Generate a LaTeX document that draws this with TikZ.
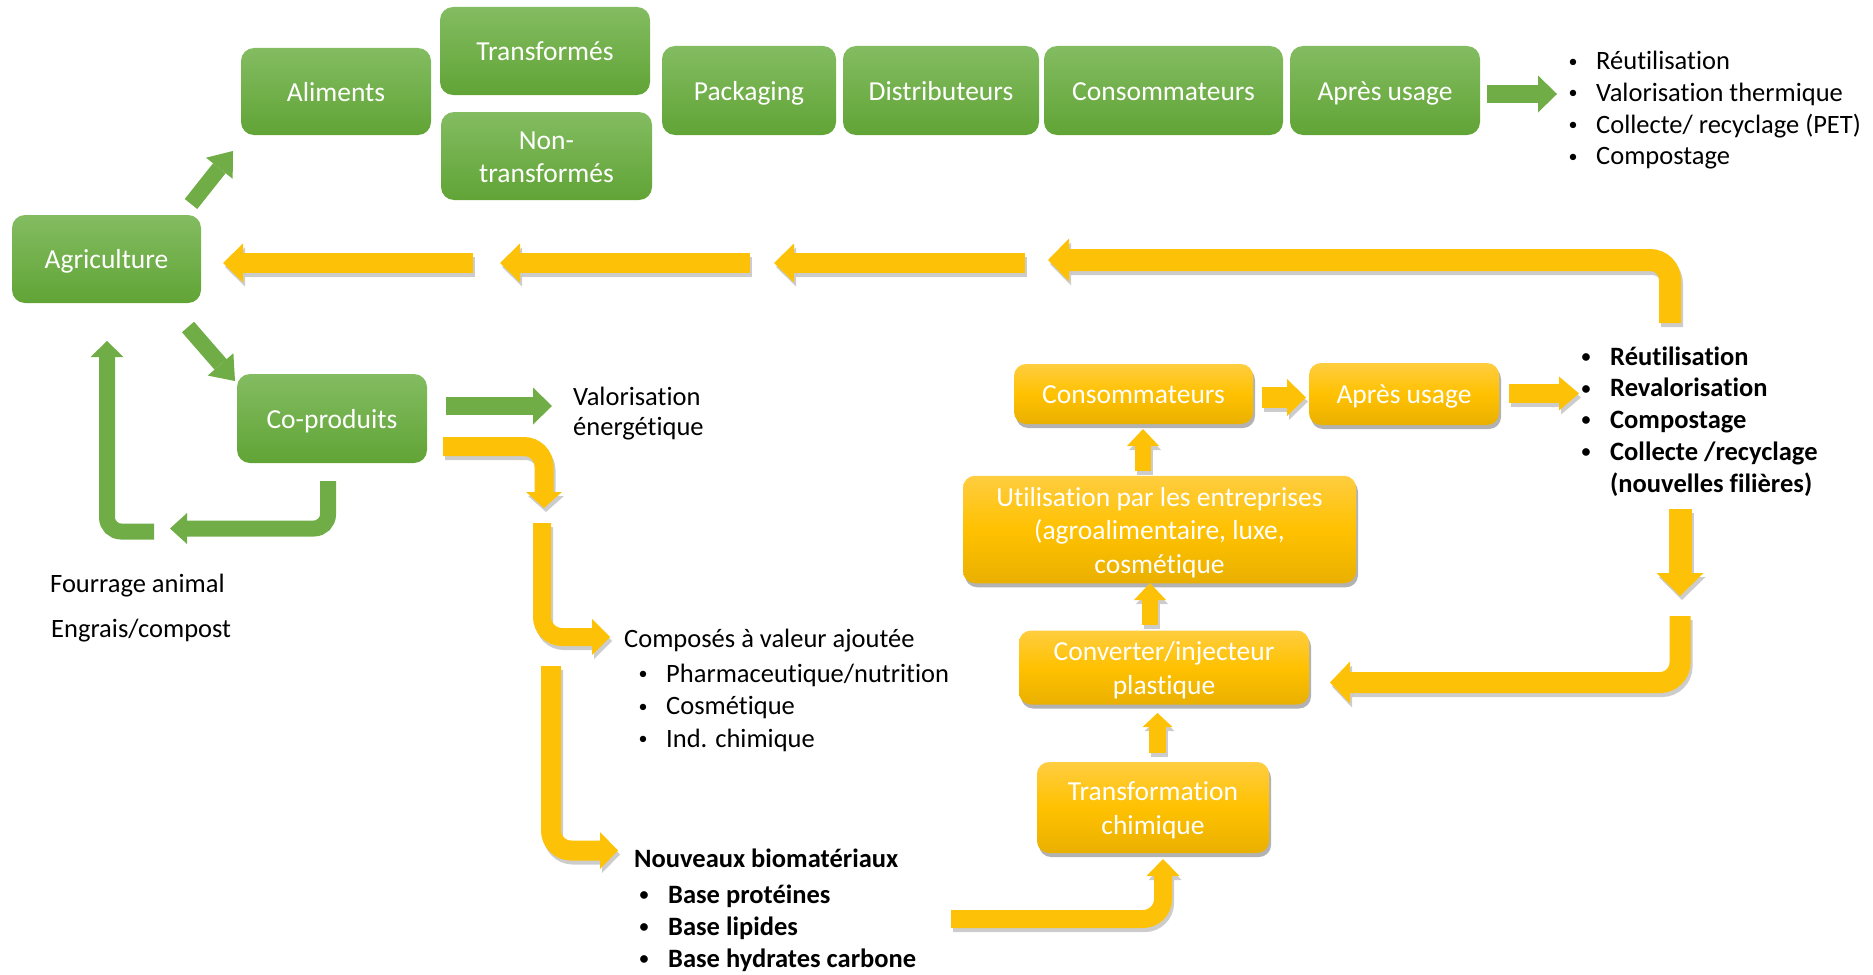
\documentclass[tikz,border=0pt]{standalone}
\usepackage{fontspec}
\setmainfont{Carlito}[Ligatures=NoCommon]
\usetikzlibrary{arrows.meta,shadows}
\definecolor{gtop}{RGB}{131,188,97}
\definecolor{gbot}{RGB}{97,164,54}
\definecolor{garrowc}{RGB}{112,173,71}
\definecolor{ytop}{RGB}{255,205,64}
\definecolor{ymid}{RGB}{255,193,0}
\definecolor{ybot}{RGB}{234,176,0}
\definecolor{yarrowc}{RGB}{253,193,8}
\tikzset{
  gbox/.style={draw=none, rounded corners=13pt, top color=gtop, bottom color=gbot, text=white,
    font=\fontsize{27.5}{33}\selectfont, align=center, inner sep=0pt},
  ybox/.style={draw=none, rounded corners=12pt, top color=ytop, bottom color=ybot, middle color=ymid, text=white,
    font=\fontsize{27.5}{33.5}\selectfont, align=center, inner sep=0pt,
    drop shadow={shadow xshift=2pt, shadow yshift=-4pt, opacity=0.3, fill=black}},
  oneline/.style={text height=19pt, text depth=0pt},
  yarr/.style n args={3}{draw=yarrowc, line width=#1, -{Triangle[width=#2,length=#3,line width=0pt]}, rounded corners=20pt},
  garr/.style n args={3}{draw=garrowc, line width=#1, -{Triangle[width=#2,length=#3,line width=0pt]}, rounded corners=14pt},
  shad/.style={draw=black, opacity=.2, transform canvas={xshift=2pt,yshift=-4pt}},
  lf/.style={font=\fontsize{26.5}{32}\selectfont, inner sep=0pt, text=black},
  lfb/.style={font=\fontsize{26.5}{32}\selectfont\bfseries, inner sep=0pt, text=black},
}
\newcommand\yarw[2]{\draw[yarr=#1,shad] #2; \draw[yarr=#1] #2;}
\newcommand\mlines[1]{\raisebox{0pt}[\dimexpr\height+7pt\relax][\depth]{\begin{tabular}{@{}c@{}}#1\end{tabular}}}
\newcommand\bul{\raisebox{2.5pt}{\fontsize{18}{18}\selectfont\textbullet}}
\begin{document}
\begin{tikzpicture}[x=1pt,y=-1pt]
\useasboundingbox (0,0) rectangle (1873,974);

% ---------- green boxes ----------
\node[gbox, oneline, minimum width=189pt, minimum height=88pt] (agri) at (106.5,259) {Agriculture};
\node[gbox, oneline, minimum width=190pt, minimum height=87pt] (alim) at (336,91.5) {Aliments};
\node[gbox, oneline, minimum width=210pt, minimum height=88pt] (transf) at (545,51) {Transformés};
\node[gbox, minimum width=211pt, minimum height=88pt] (nontransf) at (546.5,156) {\mlines{Non-\\transformés}};
\node[gbox, oneline, minimum width=174pt, minimum height=89pt] (pack) at (749,90.5) {Packaging};
\node[gbox, oneline, minimum width=196pt, minimum height=89pt] (distr) at (941,90.5) {Distributeurs};
\node[gbox, oneline, minimum width=239pt, minimum height=89pt] (conso) at (1163.5,90.5) {Consommateurs};
\node[gbox, oneline, minimum width=190pt, minimum height=89pt] (apres) at (1385,90.5) {Après usage};
\node[gbox, oneline, minimum width=190pt, minimum height=89pt] (copro) at (332,418.5) {Co-produits};

% ---------- yellow boxes ----------
\node[ybox, oneline, minimum width=239pt, minimum height=60pt] (yconso) at (1133.5,394) {Consommateurs};
\node[ybox, oneline, minimum width=190pt, minimum height=62pt] (yapres) at (1404,394) {Après usage};
\node[ybox, minimum width=393pt, minimum height=95pt] (util) at (1159.5,529.5) {\mlines{Utilisation par les entreprises\\(agroalimentaire, luxe,\\cosmétique}};
\node[ybox, minimum width=290pt, minimum height=73pt] (conv) at (1164,667.5) {\mlines{Converter/injecteur\\plastique}};
\node[ybox, minimum width=232pt, minimum height=91pt] (chim) at (1153,807.5) {\mlines{Transformation\\chimique}};

% ---------- arrow end points ----------
\coordinate (g1a) at (191,204);   \coordinate (g1b) at (233,151);
\coordinate (g2a) at (188,327);   \coordinate (g2b) at (235,381);
\coordinate (g3a) at (446,406);   \coordinate (g3b) at (552,406);
\coordinate (g4a) at (328,481);   \coordinate (g4b) at (170,528.5);
\coordinate (g5a) at (154,531.5); \coordinate (g5b) at (107,341);
\coordinate (g6a) at (1487,94);   \coordinate (g6b) at (1557,94);

\coordinate (y1a) at (443,446.5);  \coordinate (y1b) at (544,508);
\coordinate (y2a) at (542,523);    \coordinate (y2b) at (610,637);
\coordinate (y3a) at (551,666);    \coordinate (y3b) at (618,850.5);
\coordinate (y4a) at (951,919);    \coordinate (y4b) at (1163,859);
\coordinate (y5a) at (1157.5,753); \coordinate (y5b) at (1157.5,713);
\coordinate (y6a) at (1150,625);   \coordinate (y6b) at (1150,583);
\coordinate (y7a) at (1143,471);   \coordinate (y7b) at (1143,429);
\coordinate (y8a) at (1262,397.5); \coordinate (y8b) at (1306,397.5);
\coordinate (y9a) at (1509,393.5); \coordinate (y9b) at (1579,393.5);
\coordinate (y10a) at (1680,509);  \coordinate (y10b) at (1680,596);
\coordinate (y11a) at (1680,616);  \coordinate (y11b) at (1330,682.5);
\coordinate (y12a) at (1670,323);  \coordinate (y12b) at (1048,260);
\coordinate (y13a) at (1025,263);  \coordinate (y13b) at (774,263);
\coordinate (y14a) at (750,263);   \coordinate (y14b) at (500,263);
\coordinate (y15a) at (473,263);   \coordinate (y15b) at (223,263);

% ---------- green arrows ----------
\draw[garr={16pt}{34pt}{22pt}] (g1a) -- (g1b);
\draw[garr={16pt}{34pt}{22pt}] (g2a) -- (g2b);
\draw[garr={18pt}{37pt}{19pt}] (g3a) -- (g3b);
\draw[garr={16pt}{31pt}{17pt}] (g4a) |- (g4b);
\draw[garr={16pt}{33pt}{16pt}] (g5a) -| (g5b);
\draw[garr={18pt}{37pt}{19pt}] (g6a) -- (g6b);

% ---------- yellow arrows ----------
\yarw{{19pt}{36pt}{16pt}}{(y1a) -| (y1b)}
\yarw{{18pt}{36pt}{18pt}}{(y2a) |- (y2b)}
\yarw{{20pt}{37pt}{18pt}}{(y3a) |- (y3b)}
\yarw{{18pt}{33pt}{17pt}}{(y4a) -| (y4b)}
\yarw{{17pt}{30pt}{14pt}}{(y5a) -- (y5b)}
\yarw{{16pt}{32pt}{17pt}}{(y6a) -- (y6b)}
\yarw{{16pt}{32pt}{17pt}}{(y7a) -- (y7b)}
\yarw{{21pt}{37pt}{19pt}}{(y8a) -- (y8b)}
\yarw{{19pt}{34pt}{20pt}}{(y9a) -- (y9b)}
\yarw{{23pt}{47pt}{23pt}}{(y10a) -- (y10b)}
\yarw{{21pt}{42pt}{20pt}}{(y11a) |- (y11b)}
\yarw{{22pt}{43pt}{21pt}}{(y12a) |- (y12b)}
\yarw{{20pt}{39pt}{20pt}}{(y13a) -- (y13b)}
\yarw{{20pt}{39pt}{20pt}}{(y14a) -- (y14b)}
\yarw{{20pt}{39pt}{20pt}}{(y15a) -- (y15b)}

% ---------- texts ----------
% top-right list
\foreach \t [count=\i] in {Réutilisation, Valorisation thermique, Collecte/ recyclage (PET), Compostage}{
  \pgfmathsetmacro\by{70+31.5*(\i-1)}
  \node[lf, anchor=base] (lab\i) at (1573,\by) {\bul};
  \node[lf, anchor=base west] (la\i) at (1596,\by) {\t};
}
% bold list right
\foreach \t [count=\i] in {Réutilisation, Revalorisation, Compostage, Collecte /recyclage}{
  \pgfmathsetmacro\by{365+31.7*(\i-1)}
  \node[lfb, anchor=base] (lbb\i) at (1586,\by) {\bul};
  \node[lfb, anchor=base west] (lb\i) at (1610,\by) {\t};
}
\node[lfb, anchor=base west] (lb5) at (1610,492) {(nouvelles filières)};

% valorisation energetique
\node[lf, anchor=base west] (valo1) at (573,405) {Valorisation};
\node[lf, anchor=base west] (valo2) at (573,435) {énergétique};

% fourrage / engrais
\node[lf, anchor=base west] (fourr) at (50,592) {Fourrage animal};
\node[lf, anchor=base west] (engr) at (51,637) {Engrais/compost};

% composes
\node[lf, anchor=base west] (comp) at (624,647) {Composés à valeur ajoutée};
\foreach \t [count=\i] in {Pharmaceutique/nutrition, Cosmétique, Ind. chimique}{
  \pgfmathsetmacro\by{682+32.5*(\i-1)}
  \node[lf, anchor=base] (lcb\i) at (643,\by) {\bul};
  \node[lf, anchor=base west] (lc\i) at (666,\by) {\t};
}
% nouveaux biomateriaux
\node[lfb, anchor=base west] (nouv) at (634,867) {Nouveaux biomatériaux};
\foreach \t [count=\i] in {Base protéines, Base lipides, Base hydrates carbone}{
  \pgfmathsetmacro\by{903+32*(\i-1)}
  \node[lfb, anchor=base] (ldb\i) at (644,\by) {\bul};
  \node[lfb, anchor=base west] (ld\i) at (668,\by) {\t};
}
\end{tikzpicture}
\end{document}
